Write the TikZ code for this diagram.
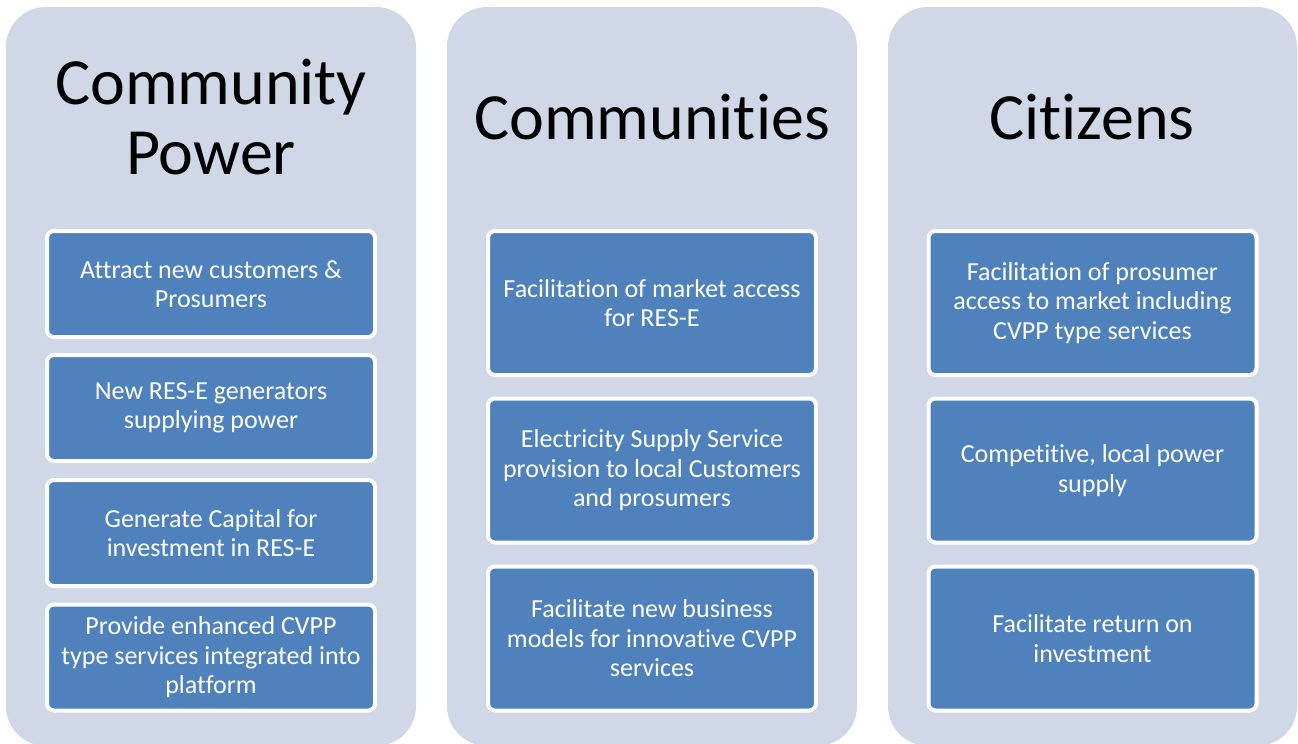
\documentclass[tikz,border=0pt]{standalone}
\usepackage{fontspec}
\setmainfont{Carlito}[Ligatures={NoCommon}]
\definecolor{panelfill}{HTML}{D0D8E8}
\definecolor{itemblue}{HTML}{4F81BD}
\begin{document}
\begin{tikzpicture}[x=1pt,y=-1pt,
  panel/.style={fill=panelfill, rounded corners=40pt},
  heading/.style={align=center, inner sep=0pt, font=\fontsize{66}{70}\selectfont},
  itembox/.style={draw=white, line width=4pt, fill=itemblue, rounded corners=7pt,
    text=white, align=center, inner sep=0pt, minimum width=328pt,
    font=\fontsize{26}{29.5}\selectfont},
  shortbox/.style={itembox, minimum height=106pt},
  tallbox/.style={itembox, minimum height=144pt}]
\useasboundingbox (0,0) rectangle (1298,744);

% background panels, their lower edge just below the page
\begin{scope}
  \clip (0,0) rectangle (1298,744);
  \fill[panel] (6,7) rectangle (416,746);
  \fill[panel] (447,7) rectangle (857,746);
  \fill[panel] (888,7) rectangle (1297,746);
\end{scope}

% headings
\node[heading] (h1) at (211,117) {Community\\Power};
\node[heading] (h2) at (652,117) {Communities};
\node[heading] (h3) at (1092,117) {Citizens};

% Community Power
\node[shortbox] (a1) at (211,284) {Attract new customers \&\\Prosumers};
\node[shortbox] (a2) at (211,408) {New RES-E generators\\supplying power};
\node[shortbox] (a3) at (211,533) {Generate Capital for\\investment in RES-E};
\node[shortbox] (a4) at (211,657.5) {Provide enhanced CVPP\\type services integrated into\\platform};

% Communities
\node[tallbox] (b1) at (652,303) {Facilitation of market access\\for RES-E};
\node[tallbox] (b2) at (652,470.5) {Electricity Supply Service\\provision to local Customers\\and prosumers};
\node[tallbox] (b3) at (652,638.5) {Facilitate new business\\models for innovative CVPP\\services};

% Citizens
\node[tallbox] (c1) at (1092.5,303) {Facilitation of prosumer\\access to market including\\CVPP type services};
\node[tallbox] (c2) at (1092.5,470.5) {Competitive, local power\\supply};
\node[tallbox] (c3) at (1092.5,638.5) {Facilitate return on\\investment};
\end{tikzpicture}
\end{document}
